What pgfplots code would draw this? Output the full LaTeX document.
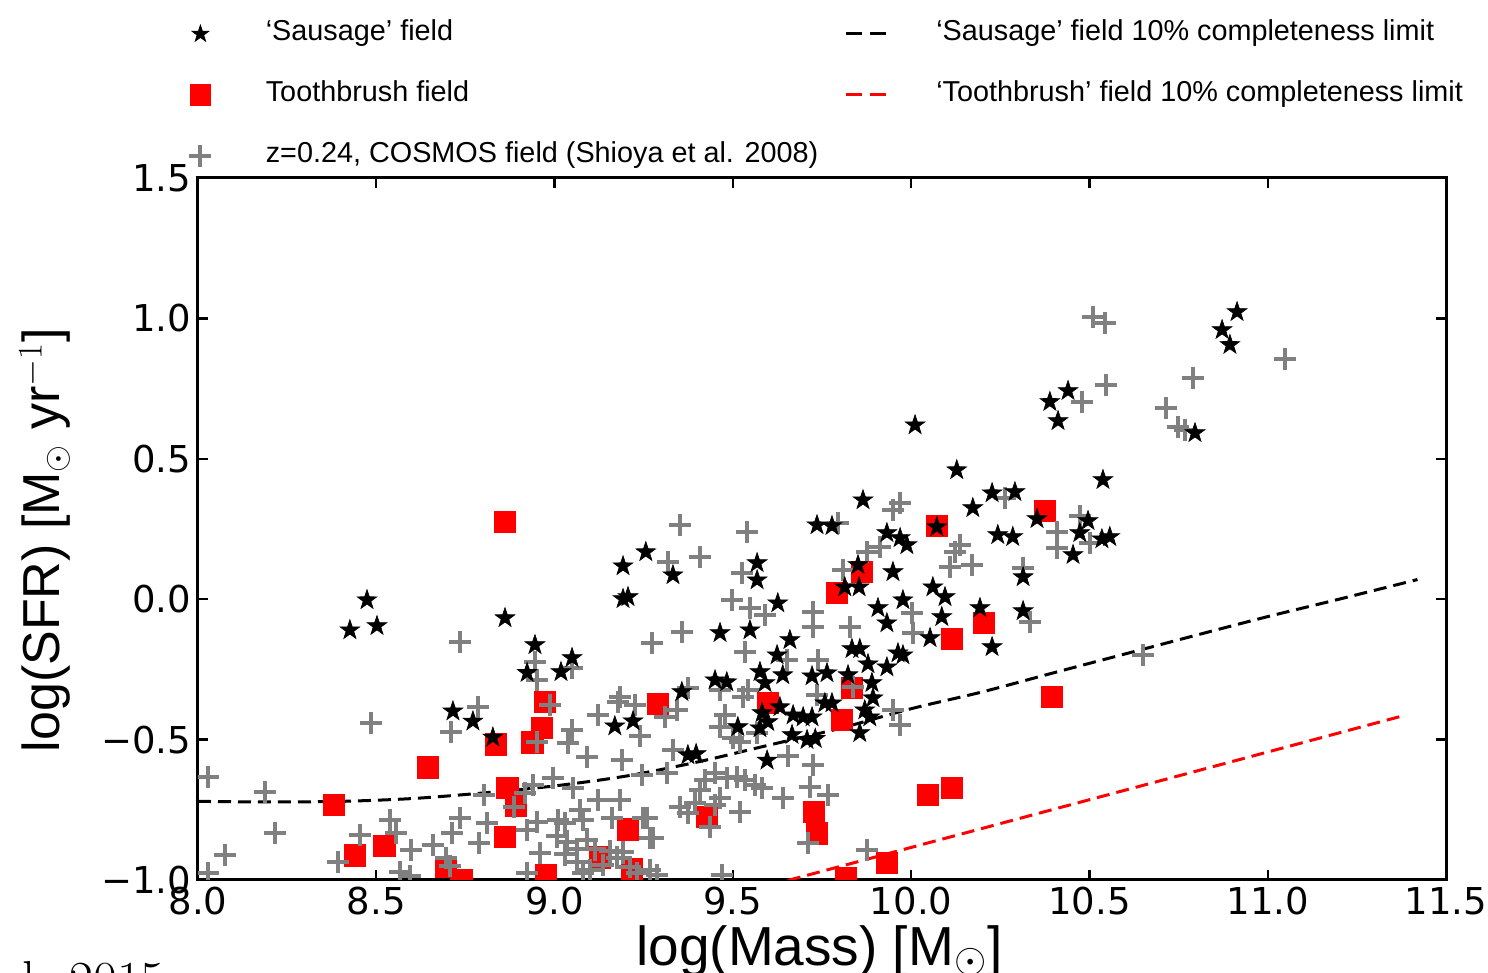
\documentclass[border=0pt]{standalone}
\usepackage{pgfplots}
\pgfplotsset{compat=1.18}
\usepackage{fontspec}
\setmainfont{Liberation Sans}
\newfontfamily\tickfont{DejaVu Sans}
\newfontfamily\lmr{Latin Modern Roman}
\pgfdeclareplotmark{fstar}{%
  \pgfpathmoveto{\pgfpointpolar{90}{\pgfplotmarksize}}%
  \pgfpathlineto{\pgfpointpolar{126}{0.39\pgfplotmarksize}}%
  \pgfpathlineto{\pgfpointpolar{162}{\pgfplotmarksize}}%
  \pgfpathlineto{\pgfpointpolar{198}{0.39\pgfplotmarksize}}%
  \pgfpathlineto{\pgfpointpolar{234}{\pgfplotmarksize}}%
  \pgfpathlineto{\pgfpointpolar{270}{0.39\pgfplotmarksize}}%
  \pgfpathlineto{\pgfpointpolar{306}{\pgfplotmarksize}}%
  \pgfpathlineto{\pgfpointpolar{342}{0.39\pgfplotmarksize}}%
  \pgfpathlineto{\pgfpointpolar{18}{\pgfplotmarksize}}%
  \pgfpathlineto{\pgfpointpolar{54}{0.39\pgfplotmarksize}}%
  \pgfpathclose
  \pgfusepathqfillstroke}
\definecolor{cosmos}{RGB}{128,128,128}
\begin{document}
\begin{tikzpicture}
\path[use as bounding box] (-99pt,-46.5pt) rectangle (645pt,440pt);
\begin{axis}[
  at={(0,0)}, anchor=south west,
  scale only axis, width=624pt, height=351pt,
  xmin=8, xmax=11.5, ymin=-1, ymax=1.5,
  xtick={8,8.5,9,9.5,10,10.5,11,11.5},
  xticklabels={8.0,8.5,9.0,9.5,10.0,10.5,11.0,11.5},
  ytick={-1,-0.5,0,0.5,1,1.5},
  yticklabels={−1.0,−0.5,0.0,0.5,1.0,1.5},
  ticklabel style={font=\tickfont\fontsize{18.5}{18.5}\selectfont},
  tick align=inside, major tick length=5pt,
  tick style={line width=1.2pt, black},
  axis line style={line width=1.5pt},
  clip marker paths=true,
  xlabel={log(Mass) [M$_\odot$]},
  ylabel={log(SFR) [M$_\odot$ yr$^{-1}$]},
  label style={font=\fontsize{26}{26}\selectfont},
  xlabel style={at={(axis description cs:0.498,-0.1215)}, anchor=base, font=\fontsize{27.5}{27.5}\selectfont},
  ylabel style={at={(axis description cs:-0.1226,0.484)}, anchor=center},
  legend columns=3, transpose legend,
  legend cell align=left,
  legend style={at={(axis description cs:-0.0144,1.2265)}, anchor=north west,
    draw=none, fill=none, inner sep=0pt, outer sep=0pt,
    font=\fontsize{14.4}{14.4}\selectfont,
    nodes={inner sep=0pt, text height=11pt, text depth=4pt},
    row sep=15.5pt,
    /tikz/every odd column/.append style={column sep=22.5pt},
    /tikz/every even column/.append style={column sep=13pt}},
]
\addlegendimage{legend image code/.code={\draw[opacity=0] (0pt,0pt) -- (20pt,0pt); \draw[mark=fstar, mark size=4.4pt, fill=black, draw=black] plot coordinates {(10pt,0pt)};}}
\addlegendentry{‘Sausage’ field}
\addlegendimage{legend image code/.code={\draw[opacity=0] (0pt,0pt) -- (20pt,0pt); \draw[mark=square*, mark size=5.2pt, fill=red, draw=red] plot coordinates {(10pt,0pt)};}}
\addlegendentry{Toothbrush field}
\addlegendimage{legend image code/.code={\draw[opacity=0] (0pt,0pt) -- (20pt,0pt); \draw[mark=+, mark size=5.5pt, draw=cosmos, line width=2pt] plot coordinates {(10pt,0pt)};}}
\addlegendentry{z=0.24, COSMOS field (Shioya et al. 2008)}
\addlegendimage{legend image code/.code={\draw[opacity=0] (0pt,0pt) -- (22.5pt,0pt); \draw[black, line width=1.5pt, dash pattern=on 8pt off 4pt] (0pt,0pt) -- (20pt,0pt);}}
\addlegendentry{‘Sausage’ field 10\% completeness limit}
\addlegendimage{legend image code/.code={\draw[opacity=0] (0pt,0pt) -- (22.5pt,0pt); \draw[red, line width=1.5pt, dash pattern=on 8pt off 4pt] (0pt,0pt) -- (20pt,0pt);}}
\addlegendentry{‘Toothbrush’ field 10\% completeness limit}

% limits
\addplot[forget plot, black, line width=1.5pt, dash pattern=on 6.5pt off 3.5pt, smooth] coordinates {
(8.0,-0.72) (8.2,-0.722) (8.4,-0.72) (8.6,-0.71) (8.8,-0.69) (9.0,-0.665) (9.2,-0.63) (9.4,-0.58) (9.6,-0.52) (9.8,-0.46) (10.0,-0.39) (10.2,-0.33) (10.4,-0.262) (10.6,-0.195) (10.8,-0.128) (11.0,-0.062) (11.2,0.0) (11.42,0.07)};
\addplot[forget plot, red, line width=1.5pt, dash pattern=on 6.5pt off 3.5pt] coordinates {
(9.6,-1.02) (11.38,-0.415)};

% Toothbrush field
\addplot[forget plot, only marks, mark=square*, mark size=5.4pt, mark options={fill=red, draw=red}] table {
8.861 0.275
9.792 0.022
9.862 0.097
10.072 0.261
10.375 0.314
10.114 -0.142
10.204 -0.085
10.395 -0.348
9.290 -0.373
8.973 -0.366
8.965 -0.459
8.937 -0.509
9.598 -0.370
9.834 -0.316
9.806 -0.430
8.836 -0.518
8.645 -0.600
8.381 -0.732
8.867 -0.672
8.892 -0.736
8.861 -0.846
8.522 -0.878
8.440 -0.913
8.695 -0.953
8.738 -0.999
8.976 -0.984
9.206 -0.820
9.127 -0.920
9.217 -0.963
9.427 -0.776
9.727 -0.758
9.736 -0.833
10.047 -0.697
10.114 -0.672
9.932 -0.939
9.817 -0.992
};

% COSMOS
\addplot[forget plot, only marks, mark=+, mark size=5.6pt, mark options={draw=cosmos, line width=2pt}] table {
8.028 -0.633
8.188 -0.687
8.216 -0.833
8.076 -0.912
8.028 -0.976
8.393 -0.936
8.454 -0.839
8.538 -0.786
8.555 -0.833
8.597 -0.893
8.566 -0.972
8.594 -0.987
8.485 -0.441
8.735 -0.153
8.785 -0.384
8.709 -0.473
8.659 -0.875
8.695 -0.921
8.712 -0.833
8.735 -0.779
8.810 -0.797
8.788 -0.868
8.802 -0.697
8.886 -0.740
8.707 -0.950
8.923 -0.822
8.923 -0.975
8.945 -0.224
8.951 -0.288
9.049 -0.245
8.987 -0.377
8.951 -0.509
9.049 -0.466
9.038 -0.512
9.122 -0.412
9.178 -0.366
9.225 -0.377
9.239 -0.487
9.091 -0.562
9.189 -0.573
9.245 -0.626
8.996 -0.637
8.939 -0.662
9.052 -0.672
8.917 -0.690
9.122 -0.715
9.183 -0.715
9.071 -0.751
8.951 -0.794
9.029 -0.797
9.080 -0.786
9.161 -0.779
9.248 -0.779
9.268 -0.850
9.007 -0.845
9.035 -0.863
9.063 -0.891
9.091 -0.856
9.113 -0.891
9.029 -0.909
9.063 -0.937
9.155 -0.898
9.175 -0.920
9.192 -0.902
9.136 -0.946
9.211 -0.954
9.099 -0.964
9.080 -0.975
9.231 -0.975
9.268 -0.964
8.959 -0.904
9.010 -0.786
9.352 0.264
9.540 0.239
9.318 0.132
9.408 0.150
9.795 0.271
9.876 0.168
9.809 0.104
9.526 0.093
9.497 -0.003
9.548 -0.031
9.590 -0.056
9.725 -0.046
9.357 -0.117
9.273 -0.156
9.534 -0.188
9.725 -0.100
9.828 -0.100
9.652 -0.217
9.739 -0.217
9.837 -0.313
9.374 -0.316
9.464 -0.323
9.542 -0.323
9.183 -0.348
9.736 -0.341
9.343 -0.395
9.310 -0.420
9.478 -0.413
9.528 -0.348
9.464 -0.455
9.500 -0.494
9.520 -0.509
9.568 -0.476
9.332 -0.537
9.315 -0.618
9.422 -0.644
9.450 -0.618
9.483 -0.637
9.511 -0.633
9.534 -0.644
9.562 -0.662
9.582 -0.672
9.640 -0.708
9.408 -0.680
9.464 -0.708
9.394 -0.726
9.352 -0.740
9.374 -0.761
9.450 -0.733
9.520 -0.758
9.259 -0.779
9.276 -0.850
9.436 -0.811
9.655 -0.558
9.725 -0.590
9.716 -0.669
9.767 -0.697
9.711 -0.868
9.876 -0.893
9.287 -0.982
9.469 -0.982
9.949 -0.395
9.969 -0.448
9.913 0.186
9.949 0.318
9.969 0.343
10.263 0.360
10.473 0.296
10.409 0.239
10.409 0.182
10.501 0.200
10.137 0.193
10.123 0.168
10.109 0.115
10.171 0.122
10.314 0.111
10.002 -0.049
10.005 -0.120
10.333 -0.081
10.510 1.005
10.543 0.984
11.048 0.855
10.546 0.763
10.790 0.788
10.479 0.702
10.715 0.681
10.748 0.613
10.768 0.602
10.650 -0.199
};

% Sausage field
\addplot[forget plot, only marks, mark=fstar, mark size=5.2pt, mark options={fill=black, draw=black, line width=0.3pt}] table {
8.474 -0.003
8.426 -0.110
8.502 -0.095
8.861 -0.067
8.945 -0.163
8.923 -0.262
9.018 -0.259
9.049 -0.209
8.715 -0.399
8.771 -0.435
8.827 -0.492
9.192 0.118
9.256 0.168
9.332 0.086
9.192 0.001
9.206 0.008
9.169 -0.452
9.220 -0.434
9.357 -0.330
9.374 -0.555
9.397 -0.551
9.464 -0.120
9.548 -0.110
9.450 -0.288
9.483 -0.295
9.514 -0.455
9.568 0.068
9.568 0.129
9.865 0.353
9.736 0.264
9.778 0.261
9.932 0.236
9.969 0.218
9.988 0.193
9.851 0.122
9.949 0.097
9.814 0.043
9.854 0.043
9.626 -0.014
9.907 -0.031
9.932 -0.085
9.660 -0.145
9.834 -0.177
9.856 -0.177
9.963 -0.192
9.624 -0.199
9.879 -0.231
9.932 -0.242
9.576 -0.259
9.640 -0.270
9.722 -0.274
9.764 -0.263
9.823 -0.270
9.590 -0.298
9.890 -0.298
9.893 -0.352
9.632 -0.384
9.582 -0.405
9.758 -0.370
9.778 -0.370
9.669 -0.413
9.697 -0.420
9.722 -0.420
9.870 -0.395
9.884 -0.420
9.576 -0.459
9.598 -0.437
9.666 -0.483
9.708 -0.501
9.731 -0.497
9.856 -0.476
9.596 -0.574
10.914 1.023
10.872 0.959
10.894 0.906
10.440 0.742
10.389 0.703
10.412 0.635
10.796 0.592
10.011 0.620
10.128 0.460
10.538 0.425
10.227 0.378
10.291 0.382
10.173 0.325
10.072 0.257
10.353 0.286
10.496 0.279
10.243 0.229
10.285 0.222
10.473 0.236
10.535 0.214
10.557 0.222
10.454 0.158
10.314 0.079
10.061 0.043
10.095 0.008
9.977 -0.003
10.193 -0.031
10.086 -0.063
10.314 -0.042
10.053 -0.138
10.227 -0.170
9.977 -0.199
};
\end{axis}
\node[anchor=base west, inner sep=0pt, font=\lmr\fontsize{26}{26}\selectfont] at (-88pt,-59pt) {l. 2015};
\end{tikzpicture}
\end{document}
